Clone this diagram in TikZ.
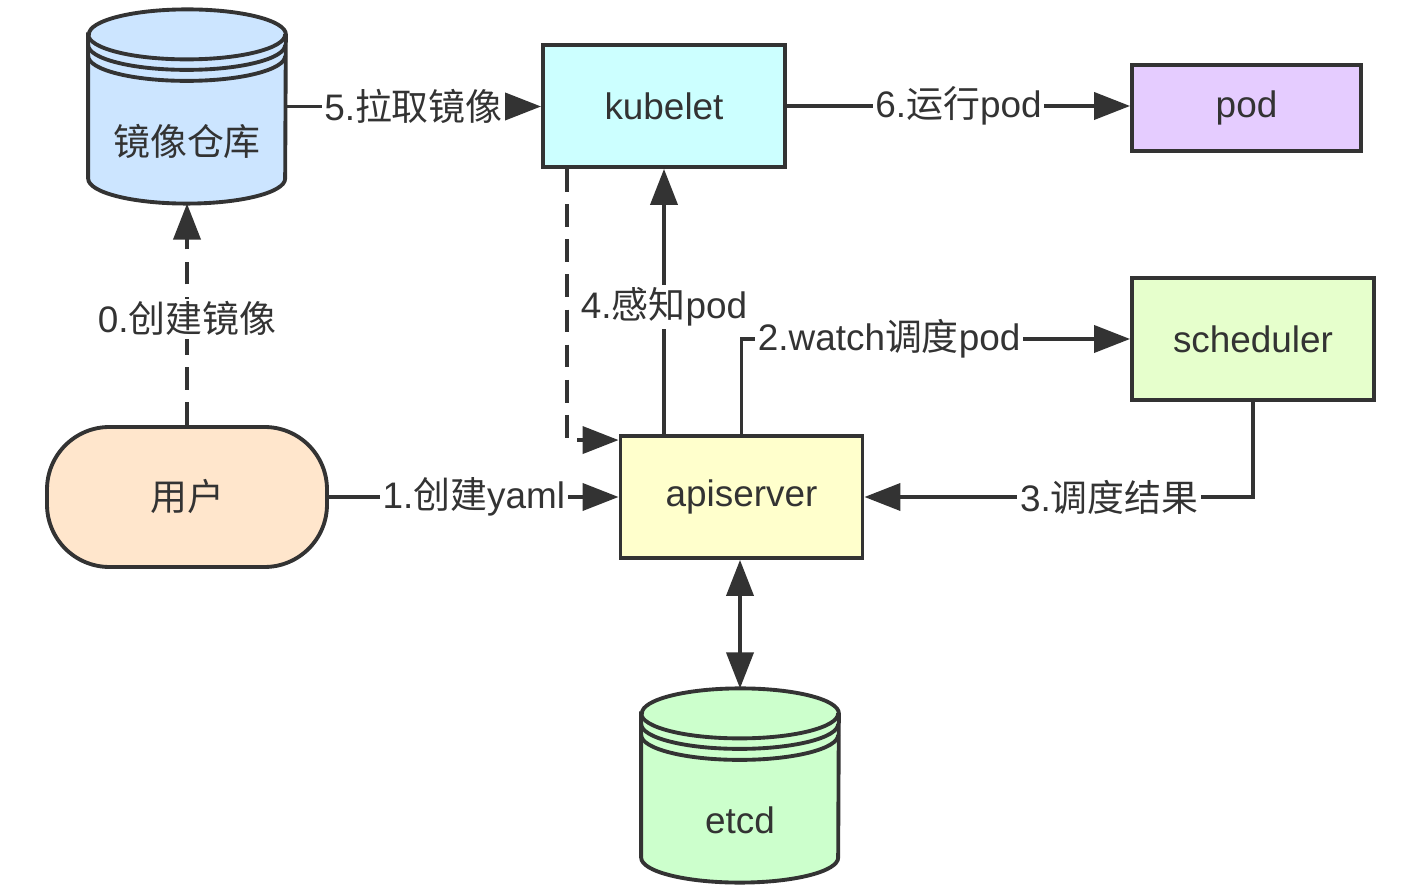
\documentclass[tikz,border=0pt]{standalone}
\usepackage{fontspec}
\setmainfont{Liberation Sans}
\newfontfamily\cjk{Noto Sans CJK SC}
\usepackage{tikz}
\usepackage{xcolor}
\usetikzlibrary{arrows.meta, calc, positioning}
\definecolor{ink}{HTML}{333333}
\definecolor{repocol}{HTML}{CCE5FF}
\definecolor{kubecol}{HTML}{CCFFFF}
\definecolor{podcol}{HTML}{E5CCFF}
\definecolor{schedcol}{HTML}{E6FFCC}
\definecolor{apicol}{HTML}{FFFFCC}
\definecolor{usercol}{HTML}{FFE6CC}
\definecolor{etcdcol}{HTML}{CCFFCC}
\tikzset{
    every node/.style={font=\fontsize{21}{25}\selectfont, text=ink},
    box/.style={draw=ink, line width=2.2pt, minimum width=4.84cm, minimum height=2.44cm},
    lbl/.style={fill=white, inner sep=1.5pt},
    arr/.style={draw=ink, line width=2.2pt, -{Triangle[length=0.72cm, width=0.54cm]}},
    darr/.style={draw=ink, line width=2.2pt, {Triangle[length=0.72cm, width=0.54cm]}-{Triangle[length=0.72cm, width=0.54cm]}},
    dashline/.style={dash pattern=on 13pt off 7pt},
}
\newcommand{\database}[4]{
    \node[minimum width=3.94cm, minimum height=3.87cm, inner sep=0cm] (#1) at (#2) {};
    \draw[draw=ink, line width=2.2pt, fill=#4]
    ($(#1.north west) + (0, -0.5)$) -- ($(#1.south west) + (0, 0.5)$)
    arc[start angle=180, end angle=360, x radius=1.97cm, y radius=0.5cm]
    -- ($(#1.north east) + (0, -0.5)$)
    arc[start angle=0, end angle=180, x radius=1.97cm, y radius=0.5cm] -- cycle;
    \draw[draw=ink, line width=2.2pt]
    ($(#1.north west) + (0, -0.5)$) arc[start angle=180, end angle=360, x radius=1.97cm, y radius=0.5cm]
    ($(#1.north west) + (0, -0.71)$) arc[start angle=180, end angle=360, x radius=1.97cm, y radius=0.5cm]
    ($(#1.north west) + (0, -0.93)$) arc[start angle=180, end angle=360, x radius=1.97cm, y radius=0.5cm];
    \node[] (#1-t) at ($(#1) + (0, -0.7)$) {#3};
}

\begin{document}
\begin{tikzpicture}
    \fill[white] (0, 0) rectangle (28.12, 17.7);
    \useasboundingbox (0, 0) rectangle (28.12, 17.7);
    \database{repo}{3.74, 15.57}{\cjk 镜像仓库}{repocol}
    \database{etcd}{14.8, 1.99}{etcd}{etcdcol}
    \node[box, fill=kubecol] (kube) at (13.28, 15.58) {kubelet};
    \node[box, fill=podcol, minimum width=4.58cm, minimum height=1.72cm] (pod) at (24.93, 15.54) {pod};
    \node[box, fill=schedcol] (sched) at (25.06, 10.92) {scheduler};
    \node[box, fill=apicol] (api) at (14.83, 7.76) {apiserver};
    \node[box, fill=usercol, minimum width=5.6cm, minimum height=2.8cm, rounded corners=1.25cm] (user) at (3.74, 7.76) {\cjk 用户};
    \coordinate (kube-d) at ($(kube.south west) + (0.52, 0)$);
    \coordinate (api-d) at ($(api.north west) + (0, -0.12)$);
    \draw[arr] (repo.east) -- node[lbl]{5.{\cjk 拉取镜像}} (repo.east -| kube.west);
    \draw[arr] (kube.east) -- node[lbl]{6.{\cjk 运行}pod} (kube.east -| pod.west);
    \draw[arr, dashline] (user.north) -- node[lbl, pos=0.48]{0.{\cjk 创建镜像}} (repo.south);
    \draw[arr] (user.east) -- node[lbl]{1.{\cjk 创建}yaml} (api.west);
    \draw[arr, dashline] (kube-d) |- (api-d);
    \draw[arr] (api.north -| kube.south) -- node[lbl, pos=0.48]{4.{\cjk 感知}pod} (kube.south);
    \draw[arr] (api.north) |- node[lbl, pos=0.69]{2.watch{\cjk 调度}pod} (sched.west);
    \draw[arr] (sched.south) |- node[lbl, pos=0.685]{3.{\cjk 调度结果}} (api.east);
    \draw[darr] (api.south -| etcd.north) -- (etcd.north);
\end{tikzpicture}
\end{document}
